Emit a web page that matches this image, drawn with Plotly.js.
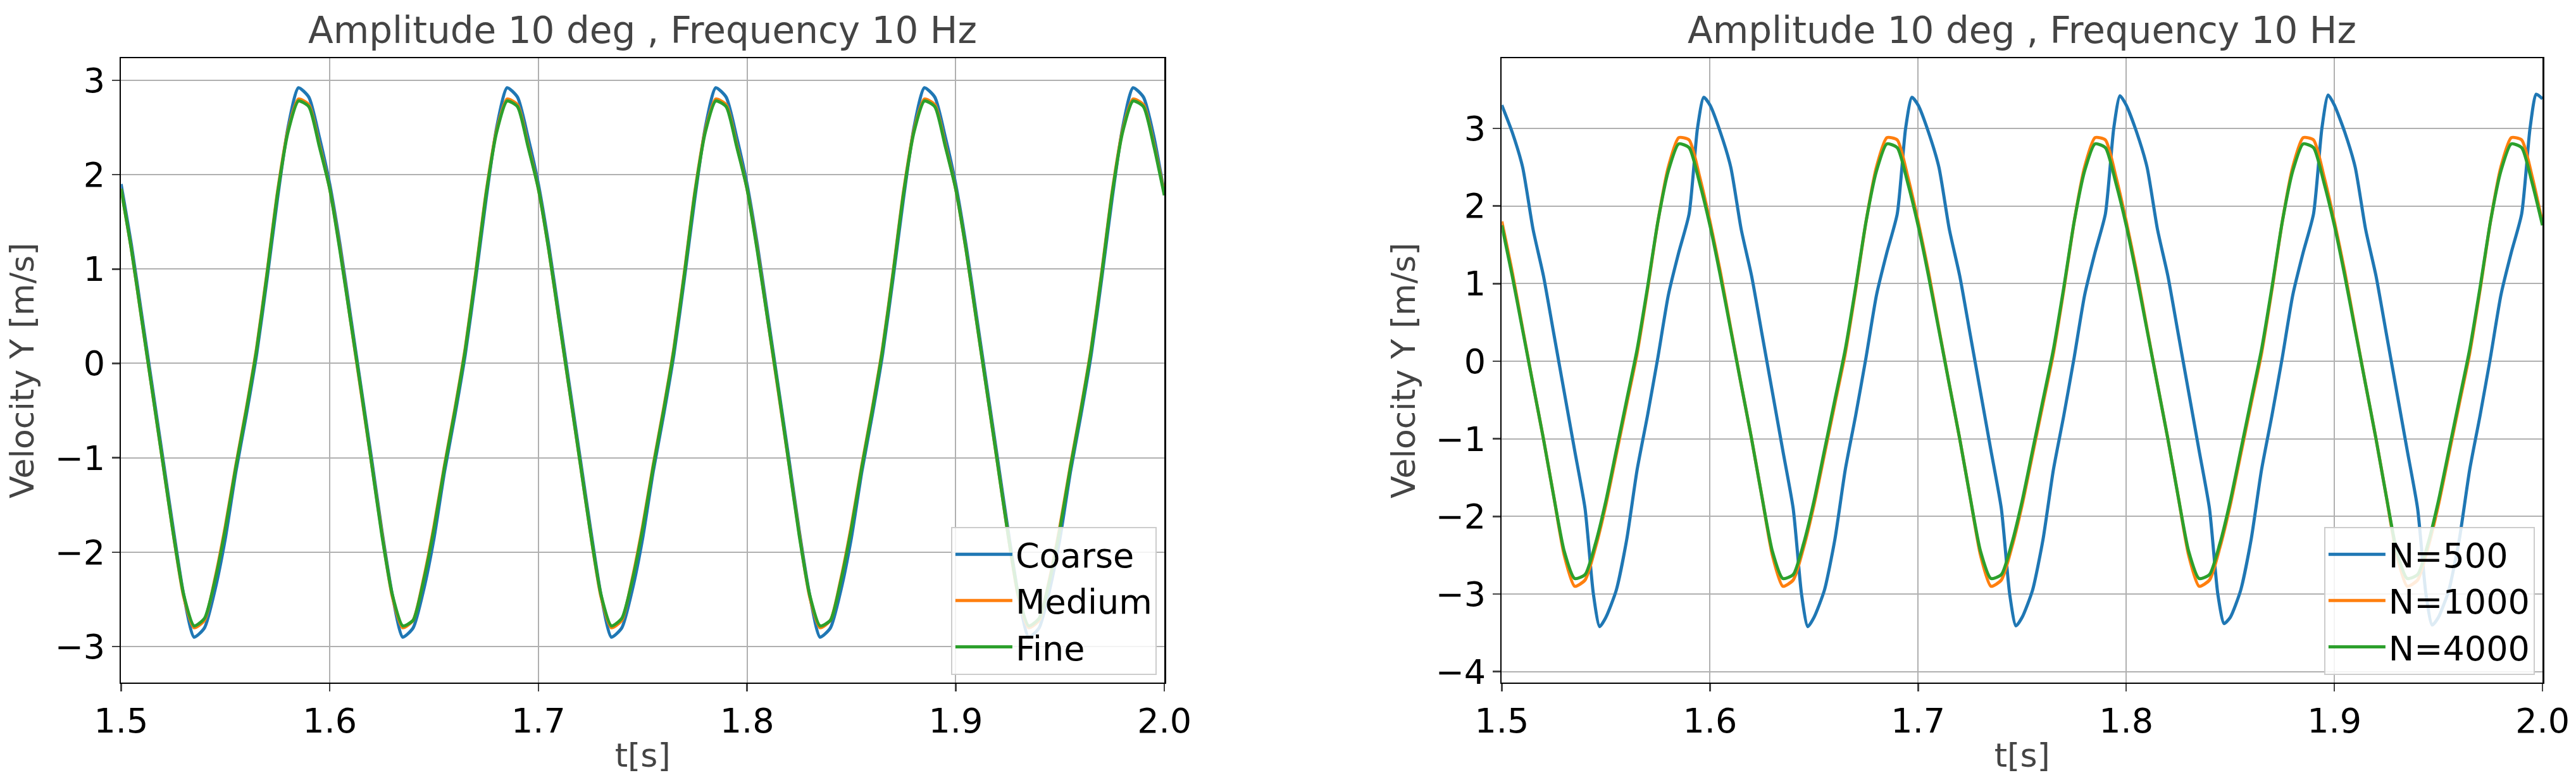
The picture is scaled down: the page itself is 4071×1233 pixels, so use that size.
<!DOCTYPE html>
<html>
<head>
<meta charset="utf-8">
<script src="https://cdn.plot.ly/plotly-3.0.1.min.js"></script>
<style>body{margin:0;background:#fff}</style>
</head>
<body>
<div id="myDiv" style="width:4071px;height:1233px"></div>
<script>
  // time samples (left plot, and N=1000 / N=4000 on the right)
  var t = [1.500,1.505,1.510,1.515,1.520,1.525,1.530,1.535,1.540,1.545,1.550,1.555,1.560,1.565,1.570,1.575,1.580,1.585,1.590,1.595,
           1.600,1.605,1.610,1.615,1.620,1.625,1.630,1.635,1.640,1.645,1.650,1.655,1.660,1.665,1.670,1.675,1.680,1.685,1.690,1.695,
           1.700,1.705,1.710,1.715,1.720,1.725,1.730,1.735,1.740,1.745,1.750,1.755,1.760,1.765,1.770,1.775,1.780,1.785,1.790,1.795,
           1.800,1.805,1.810,1.815,1.820,1.825,1.830,1.835,1.840,1.845,1.850,1.855,1.860,1.865,1.870,1.875,1.880,1.885,1.890,1.895,
           1.900,1.905,1.910,1.915,1.920,1.925,1.930,1.935,1.940,1.945,1.950,1.955,1.960,1.965,1.970,1.975,1.980,1.985,1.990,1.995,2.000];

  var coarse = [1.9,1.25,0.5,-0.25,-1.0,-1.75,-2.45,-2.9,-2.8,-2.4,-1.85,-1.15,-0.55,0.1,0.9,1.75,2.5,2.92,2.82,2.4,
                1.9,1.25,0.5,-0.25,-1.0,-1.77,-2.45,-2.9,-2.8,-2.4,-1.85,-1.15,-0.55,0.1,0.9,1.75,2.5,2.92,2.82,2.4,
                1.9,1.25,0.5,-0.25,-1.0,-1.75,-2.45,-2.9,-2.8,-2.4,-1.85,-1.15,-0.55,0.1,0.9,1.75,2.5,2.92,2.82,2.4,
                1.9,1.25,0.5,-0.25,-1.0,-1.77,-2.45,-2.9,-2.8,-2.4,-1.85,-1.15,-0.55,0.1,0.9,1.75,2.5,2.92,2.82,2.4,
                1.9,1.25,0.5,-0.25,-1.0,-1.75,-2.45,-2.9,-2.8,-2.4,-1.85,-1.15,-0.55,0.1,0.9,1.75,2.5,2.92,2.82,2.4,1.8];
  var medium = [1.85,1.2,0.45,-0.3,-1.05,-1.8,-2.47,-2.8,-2.72,-2.28,-1.72,-1.08,-0.48,0.17,0.97,1.82,2.47,2.8,2.74,2.32,
                1.85,1.2,0.45,-0.3,-1.05,-1.8,-2.47,-2.8,-2.72,-2.28,-1.72,-1.08,-0.48,0.17,0.97,1.82,2.47,2.8,2.74,2.32,
                1.85,1.2,0.45,-0.3,-1.05,-1.8,-2.47,-2.8,-2.72,-2.28,-1.72,-1.08,-0.48,0.17,0.97,1.82,2.47,2.8,2.74,2.32,
                1.85,1.2,0.45,-0.3,-1.05,-1.8,-2.47,-2.8,-2.72,-2.28,-1.72,-1.08,-0.48,0.17,0.97,1.82,2.47,2.8,2.74,2.32,
                1.85,1.2,0.45,-0.3,-1.05,-1.8,-2.47,-2.8,-2.72,-2.28,-1.72,-1.08,-0.48,0.17,0.97,1.82,2.47,2.8,2.74,2.32,1.8];
  var fine = [1.85,1.2,0.45,-0.3,-1.05,-1.8,-2.45,-2.78,-2.7,-2.3,-1.75,-1.1,-0.5,0.15,0.95,1.8,2.45,2.78,2.72,2.3,
              1.85,1.18,0.45,-0.28,-1.05,-1.82,-2.45,-2.78,-2.72,-2.3,-1.75,-1.1,-0.5,0.15,0.95,1.8,2.45,2.78,2.72,2.3,
              1.85,1.2,0.45,-0.3,-1.05,-1.8,-2.45,-2.78,-2.7,-2.3,-1.75,-1.1,-0.5,0.15,0.95,1.8,2.45,2.78,2.72,2.3,
              1.85,1.18,0.45,-0.28,-1.05,-1.82,-2.45,-2.78,-2.72,-2.3,-1.75,-1.1,-0.5,0.15,0.95,1.8,2.45,2.78,2.72,2.3,
              1.85,1.2,0.45,-0.3,-1.05,-1.8,-2.45,-2.78,-2.7,-2.3,-1.75,-1.1,-0.5,0.15,0.95,1.8,2.45,2.78,2.72,2.3,1.78];

  var n1000 = [1.8,1.15,0.42,-0.3,-1.0,-1.75,-2.5,-2.9,-2.82,-2.4,-1.85,-1.2,-0.55,0.1,0.92,1.8,2.5,2.88,2.85,2.38,
               1.8,1.15,0.42,-0.3,-1.0,-1.75,-2.5,-2.9,-2.82,-2.4,-1.85,-1.2,-0.55,0.1,0.92,1.8,2.5,2.88,2.85,2.38,
               1.8,1.15,0.42,-0.3,-1.0,-1.75,-2.5,-2.9,-2.82,-2.4,-1.85,-1.2,-0.55,0.1,0.92,1.8,2.5,2.88,2.85,2.38,
               1.8,1.15,0.42,-0.3,-1.0,-1.75,-2.5,-2.9,-2.82,-2.4,-1.85,-1.2,-0.55,0.1,0.92,1.8,2.5,2.88,2.85,2.38,
               1.8,1.15,0.42,-0.3,-1.0,-1.75,-2.5,-2.9,-2.82,-2.4,-1.85,-1.2,-0.55,0.1,0.92,1.8,2.5,2.88,2.85,2.38,1.78];
  var n4000 = [1.75,1.1,0.4,-0.3,-1.0,-1.75,-2.45,-2.8,-2.75,-2.35,-1.8,-1.15,-0.5,0.15,0.95,1.8,2.45,2.8,2.75,2.3,
               1.75,1.1,0.4,-0.3,-1.0,-1.75,-2.45,-2.8,-2.75,-2.35,-1.8,-1.15,-0.5,0.15,0.95,1.8,2.45,2.8,2.75,2.3,
               1.75,1.1,0.4,-0.3,-1.0,-1.75,-2.45,-2.8,-2.75,-2.35,-1.8,-1.15,-0.5,0.15,0.95,1.8,2.45,2.8,2.75,2.3,
               1.75,1.1,0.4,-0.3,-1.0,-1.75,-2.45,-2.8,-2.75,-2.35,-1.8,-1.15,-0.5,0.15,0.95,1.8,2.45,2.8,2.75,2.3,
               1.75,1.1,0.4,-0.3,-1.0,-1.75,-2.45,-2.8,-2.75,-2.35,-1.8,-1.15,-0.5,0.15,0.95,1.8,2.45,2.8,2.75,2.3,1.75];

  // N=500 has its own (uneven) samples, denser near the sharp extremes
  var t500 = [1.500,1.505,1.510,1.515,1.520,1.525,1.530,1.535,1.540,1.544,1.547,1.550,1.555,1.560,1.565,1.570,1.575,1.580,1.585,1.590,1.594,1.597,
              1.600,1.605,1.610,1.615,1.620,1.625,1.630,1.635,1.640,1.644,1.647,1.650,1.655,1.660,1.665,1.670,1.675,1.680,1.685,1.690,1.694,1.697,
              1.700,1.705,1.710,1.715,1.720,1.725,1.730,1.735,1.740,1.744,1.747,1.750,1.755,1.760,1.765,1.770,1.775,1.780,1.785,1.790,1.794,1.797,
              1.800,1.805,1.810,1.815,1.820,1.825,1.830,1.835,1.840,1.844,1.847,1.850,1.855,1.860,1.865,1.870,1.875,1.880,1.885,1.890,1.894,1.897,
              1.900,1.905,1.910,1.915,1.920,1.925,1.930,1.935,1.940,1.944,1.947,1.950,1.955,1.960,1.965,1.970,1.975,1.980,1.985,1.990,1.994,1.997,2.000];
  var n500 = [3.3,2.95,2.5,1.7,1.1,0.35,-0.4,-1.15,-1.9,-3.0,-3.42,-3.3,-2.95,-2.3,-1.4,-0.7,0.05,0.85,1.4,1.9,3.0,3.4,
              3.3,2.95,2.5,1.7,1.1,0.35,-0.4,-1.15,-1.9,-3.0,-3.42,-3.3,-2.95,-2.3,-1.4,-0.7,0.05,0.85,1.4,1.9,3.0,3.4,
              3.3,2.95,2.5,1.7,1.1,0.35,-0.4,-1.15,-1.9,-3.0,-3.41,-3.3,-2.95,-2.3,-1.4,-0.7,0.05,0.85,1.4,1.9,3.0,3.42,
              3.3,2.95,2.5,1.7,1.1,0.35,-0.4,-1.15,-1.9,-3.0,-3.38,-3.3,-2.95,-2.3,-1.4,-0.7,0.05,0.85,1.4,1.9,3.0,3.43,
              3.3,2.95,2.5,1.7,1.1,0.35,-0.4,-1.15,-1.9,-3.0,-3.4,-3.3,-2.95,-2.3,-1.4,-0.7,0.05,0.85,1.4,1.9,3.0,3.44,3.38];

  var blue = '#1f77b4', orange = '#ff7f0e', green = '#2ca02c';
  function line(x, y, name, color, xa, ya, lg) {
    return {x: x, y: y, name: name, type: 'scatter', mode: 'lines',
            line: {color: color, width: 5, shape: 'spline', smoothing: 0.6},
            xaxis: xa, yaxis: ya, legend: lg};
  }

  var data = [
    line(t, coarse, 'Coarse', blue, 'x', 'y', 'legend'),
    line(t, medium, 'Medium', orange, 'x', 'y', 'legend'),
    line(t, fine, 'Fine', green, 'x', 'y', 'legend'),
    line(t500, n500, 'N=500', blue, 'x2', 'y2', 'legend2'),
    line(t, n1000, 'N=1000', orange, 'x2', 'y2', 'legend2'),
    line(t, n4000, 'N=4000', green, 'x2', 'y2', 'legend2')
  ];

  var font = {family: 'DejaVu Sans', size: 54, color: '#000'};
  function xax(dom, anchor) {
    return {domain: dom, anchor: anchor, range: [1.5, 2.0], dtick: 0.1, tickformat: '.1f',
            showgrid: true, gridcolor: '#b0b0b0', gridwidth: 2, zeroline: false,
            showline: true, linecolor: '#000', linewidth: 2.5, mirror: true,
            ticks: 'outside', ticklen: 12, tickwidth: 2.5, tickfont: font,
            title: {text: 't[s]', font: {family: 'DejaVu Sans', size: 52}, standoff: 6}};
  }
  function yax(range, anchor) {
    return {domain: [0.125, 0.925], anchor: anchor, range: range, dtick: 1,
            showgrid: true, gridcolor: '#b0b0b0', gridwidth: 2, zeroline: false,
            showline: true, linecolor: '#000', linewidth: 2.5, mirror: true,
            ticks: 'outside', ticklen: 12, tickwidth: 2.5, tickfont: font,
            title: {text: 'Velocity Y [m/s]', font: {family: 'DejaVu Sans', size: 52}, standoff: 16}};
  }
  function leg(xr) {
    return {x: xr, y: 0.135, xanchor: 'right', yanchor: 'bottom', font: font,
            itemwidth: 90, tracegroupgap: 0,
            bgcolor: 'rgba(255,255,255,0.85)', bordercolor: '#cccccc', borderwidth: 2};
  }

  var layout = {
    width: 4071, height: 1233,
    margin: {l: 0, r: 0, t: 0, b: 0},
    paper_bgcolor: '#fff', plot_bgcolor: '#fff',
    showlegend: true,
    xaxis: xax([0.047, 0.452], 'y'),
    yaxis: yax([-3.38, 3.23], 'x'),
    xaxis2: xax([0.583, 0.987], 'y2'),
    yaxis2: yax([-4.14, 3.9], 'x2'),
    legend: leg(0.449),
    legend2: leg(0.984),
    annotations: [
      {text: 'Amplitude 10 deg , Frequency 10 Hz', xref: 'paper', yref: 'paper', x: 0.2495, y: 0.932,
       xanchor: 'center', yanchor: 'bottom', showarrow: false, font: {family: 'DejaVu Sans', size: 58}},
      {text: 'Amplitude 10 deg , Frequency 10 Hz', xref: 'paper', yref: 'paper', x: 0.785, y: 0.932,
       xanchor: 'center', yanchor: 'bottom', showarrow: false, font: {family: 'DejaVu Sans', size: 58}}
    ]
  };

  Plotly.newPlot('myDiv', data, layout, {staticPlot: true});
</script>
</body>
</html>
